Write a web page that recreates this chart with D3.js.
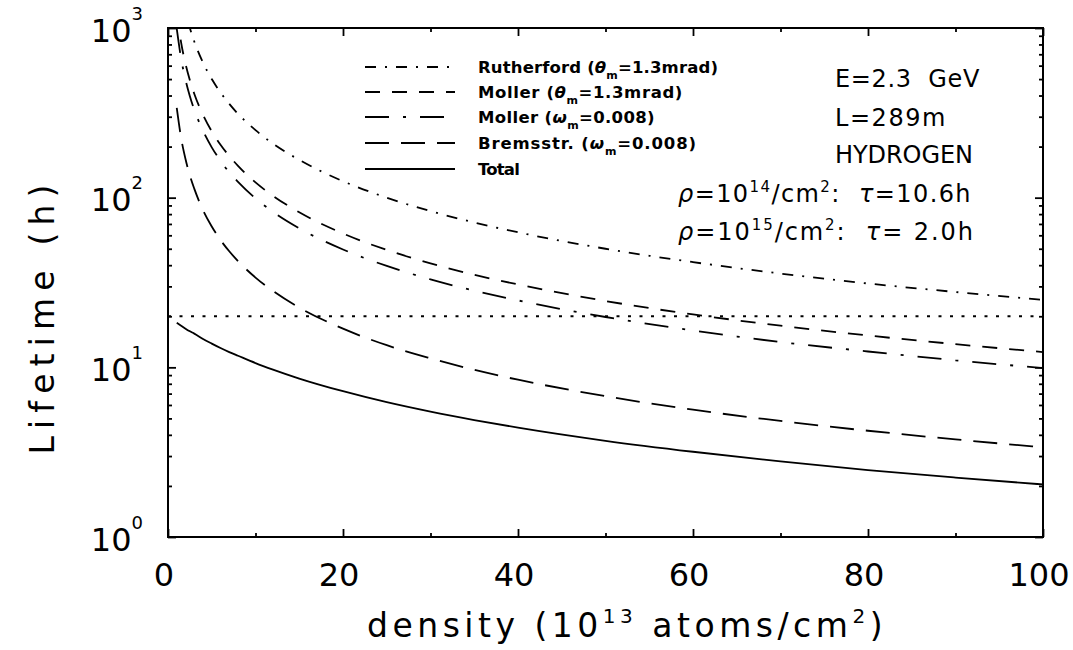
<!DOCTYPE html>
<html><head><meta charset="utf-8">
<script src="https://cdn.jsdelivr.net/npm/d3@7"></script>
<style>body{margin:0;background:#fff}text{font-family:"DejaVu Sans",sans-serif;fill:#000}</style>
</head><body>
<svg id="c" width="1073" height="650"></svg>
<script>
// ---- data ----
const densities   = [1, 1.5, 2, 2.5, 3, 4, 5, 6, 7, 8, 10, 12, 15, 20, 25, 30, 35, 40, 50, 60, 70, 80, 90, 100];
const rutherford  = [2500, 1667, 1250, 1000, 833, 625, 500, 417, 357, 312, 250, 208, 167, 125, 100, 83.3, 71.4, 62.5, 50, 41.7, 35.7, 31.2, 27.8, 25];
const mollerTheta = [1230, 820, 615, 492, 410, 308, 246, 205, 176, 154, 123, 102.5, 82, 61.5, 49.2, 41, 35.1, 30.8, 24.6, 20.5, 17.6, 15.4, 13.7, 12.3];
const mollerOmega = [990, 660, 495, 396, 330, 248, 198, 165, 141, 124, 99, 82.5, 66, 49.5, 39.6, 33, 28.3, 24.8, 19.8, 16.5, 14.1, 12.4, 11, 9.9];
const bremsstr    = [338, 225, 169, 135, 113, 84.5, 67.6, 56.3, 48.3, 42.3, 33.8, 28.2, 22.5, 16.9, 13.5, 11.3, 9.66, 8.45, 6.76, 5.63, 4.83, 4.23, 3.76, 3.38];
const total       = [18.3, 17.6, 16.9, 16.3, 15.8, 14.7, 13.8, 13.0, 12.3, 11.7, 10.6, 9.7, 8.59, 7.23, 6.23, 5.48, 4.89, 4.41, 3.69, 3.18, 2.79, 2.48, 2.24, 2.04];
const referenceLifetime = 20;
const xTickValues = [0, 20, 40, 60, 80, 100];
const xMinorValues = [10, 30, 50, 70, 90];
const yDecades = [1, 10, 100, 1000];
const yExponents = ["0", "1", "2", "3"];
const legendNames = ["Rutherford", "Moller", "Moller", "Bremsstr.", "Total"];
const legendSymbols = ["θ", "θ", "ω", "ω", null];
const legendValues = ["=1.3mrad)", "=1.3mrad)", "=0.008)", "=0.008)", null];

// ---- layout ----
const X0 = 168, X1 = 1043, Y0 = 537, Y1 = 28;
const svg = d3.select("#c");
svg.append("rect").attr("width", 1073).attr("height", 650).attr("fill", "#fff");
const x = d3.scaleLinear().domain([0, 100]).range([X0, X1]);
const y = d3.scaleLog().domain([1, 1000]).range([Y0, Y1]);

svg.append("defs").append("clipPath").attr("id", "clip")
  .append("rect").attr("x", X0).attr("y", Y1).attr("width", X1 - X0).attr("height", Y0 - Y1);

const series = [
  { values: rutherford,  dash: "11,9,2,9" },
  { values: mollerTheta, dash: "15,12" },
  { values: mollerOmega, dash: "24,14,3,14" },
  { values: bremsstr,    dash: "24,12" },
  { values: total,       dash: null }
];

const line = d3.line().x((d, i) => x(densities[i])).y(d => y(d)).curve(d3.curveMonotoneX);
const plot = svg.append("g").attr("clip-path", "url(#clip)");
series.forEach(s => {
  plot.append("path").attr("d", line(s.values)).attr("fill", "none")
    .attr("stroke", "#000").attr("stroke-width", 1.8)
    .attr("stroke-dasharray", s.dash);
});
plot.append("line").attr("x1", x(0)).attr("x2", x(100))
  .attr("y1", y(referenceLifetime)).attr("y2", y(referenceLifetime))
  .attr("stroke", "#000").attr("stroke-width", 1.8).attr("stroke-dasharray", "3,8.5");

// ---- axes ----
const yMinor = [];
[1, 10, 100].forEach(dec => { for (let k = 2; k <= 9; k++) yMinor.push(k * dec); });
function axis(gen, tx, ty, vals, size) {
  const g = svg.append("g").attr("transform", `translate(${tx},${ty})`)
    .call(gen.tickValues(vals).tickSize(size).tickFormat(""));
  g.select(".domain").remove();
  g.selectAll("line").attr("stroke", "#000").attr("stroke-width", 1.8);
}
axis(d3.axisBottom(x), 0, Y0, xTickValues, -8);
axis(d3.axisBottom(x), 0, Y0, xMinorValues, -4);
axis(d3.axisTop(x), 0, Y1, xTickValues, -8);
axis(d3.axisTop(x), 0, Y1, xMinorValues, -4);
axis(d3.axisLeft(y), X0, 0, yDecades, -8);
axis(d3.axisLeft(y), X0, 0, yMinor, -4);
axis(d3.axisRight(y), X1, 0, yDecades, -8);
axis(d3.axisRight(y), X1, 0, yMinor, -4);
svg.append("rect").attr("x", X0).attr("y", Y1).attr("width", X1 - X0).attr("height", Y0 - Y1)
  .attr("fill", "none").attr("stroke", "#000").attr("stroke-width", 2);

// tick labels
xTickValues.forEach(v => {
  svg.append("text").attr("x", x(v) - 4).attr("y", 586).attr("text-anchor", "middle")
    .attr("font-size", 32).text(v);
});
yDecades.forEach((v, i) => {
  const t = svg.append("text").attr("x", 143).attr("y", y(v) + 13.5).attr("text-anchor", "end")
    .attr("font-size", 32);
  t.append("tspan").text("10");
  t.append("tspan").attr("font-size", 18).attr("dy", -22).text(yExponents[i]);
});

function fit(sel, target) {
  const n = sel.node();
  const len = n.getComputedTextLength();
  const cnt = n.textContent.length;
  sel.attr("letter-spacing", ((target - len) / cnt).toFixed(2));
}

// axis titles
const xl = svg.append("text").attr("x", 367).attr("y", 637).attr("font-size", 33);
xl.append("tspan").text("density (10");
xl.append("tspan").attr("font-size", 20).attr("dy", -14).text("13");
xl.append("tspan").attr("dy", 14).text(" atoms/cm");
xl.append("tspan").attr("font-size", 20).attr("dy", -14).text("2");
xl.append("tspan").attr("dy", 14).text(")");
fit(xl, 520);

const yl = svg.append("text").attr("transform", "translate(54,316) rotate(-90)")
  .attr("text-anchor", "middle").attr("font-size", 33).text("Lifetime (h)");
fit(yl, 277);

// legend
const legendRows = [67, 92, 117, 143, 169];
const legendWidths = [240, 205, 177, 219, 41];
series.forEach((s, i) => {
  const ry = legendRows[i];
  svg.append("line").attr("x1", 365).attr("x2", 455).attr("y1", ry).attr("y2", ry)
    .attr("stroke", "#000").attr("stroke-width", 1.8).attr("stroke-dasharray", s.dash);
  const t = svg.append("text").attr("x", 478).attr("y", ry + 6).attr("font-size", 16.5)
    .attr("font-weight", "bold");
  if (legendSymbols[i]) {
    t.append("tspan").text(legendNames[i] + " (");
    t.append("tspan").attr("font-style", "italic").text(legendSymbols[i]);
    t.append("tspan").attr("font-size", 11).attr("dy", 6).text("m");
    t.append("tspan").attr("dy", -6).text(legendValues[i]);
  } else {
    t.append("tspan").text(legendNames[i]);
  }
  fit(t, legendWidths[i]);
});

// annotations
const ann = [["E=2.3\u00A0\u00A0GeV", 87, 145], ["L=289m", 126, 112], ["HYDROGEN", 163, 138]];
ann.forEach(a => {
  const t = svg.append("text").attr("x", 835).attr("y", a[1]).attr("font-size", 24).text(a[0]);
  fit(t, a[2]);
});
const rhoRows = [["14", "10.6h", 202, 294], ["15", "\u00A02.0h", 240, 297]];
rhoRows.forEach(r => {
  const t = svg.append("text").attr("x", 678).attr("y", r[2]).attr("font-size", 24);
  t.append("tspan").attr("font-style", "italic").text("ρ");
  t.append("tspan").text("=10");
  t.append("tspan").attr("font-size", 15).attr("dy", -10).text(r[0]);
  t.append("tspan").attr("dy", 10).text("/cm");
  t.append("tspan").attr("font-size", 15).attr("dy", -10).text("2");
  t.append("tspan").attr("dy", 10).text(":\u00A0\u00A0");
  t.append("tspan").attr("font-style", "italic").text("τ");
  t.append("tspan").text("=" + r[1]);
  fit(t, r[3]);
});
</script>
</body></html>
